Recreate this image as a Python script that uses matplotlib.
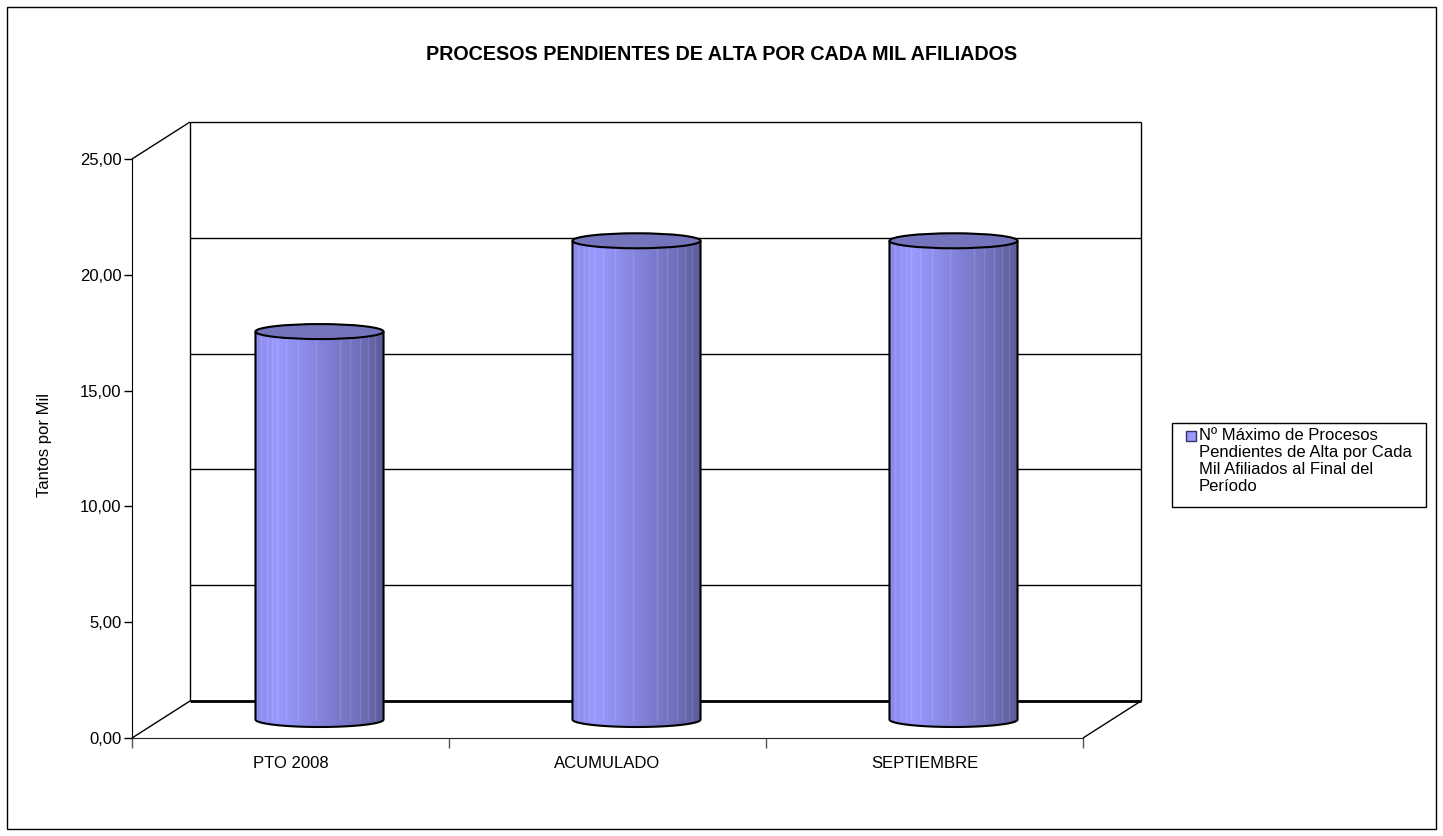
#!/usr/bin/env python3
"""
Excel-style 3D cylinder chart: procesos pendientes de alta por cada mil afiliados.
"""

import numpy as np
import matplotlib.pyplot as plt
from matplotlib.patches import Ellipse, PathPatch, Rectangle
from matplotlib.path import Path
from matplotlib.colors import LinearSegmentedColormap

# --- Data ---
categories = ['PTO 2008', 'ACUMULADO', 'SEPTIEMBRE']
values = [16.75, 20.67, 20.67]
y_ticks = [0, 5, 10, 15, 20, 25]
y_labels = ['0,00', '5,00', '10,00', '15,00', '20,00', '25,00']
title = 'PROCESOS PENDIENTES DE ALTA POR CADA MIL AFILIADOS'
y_title = 'Tantos por Mil'
series_label = ('Nº Máximo de Procesos\nPendientes de Alta por Cada\n'
                'Mil Afiliados al Final del\nPeríodo')

plt.rcParams['font.family'] = ['Liberation Sans', 'DejaVu Sans']

W, H, DPI = 1443, 836, 100
fig = plt.figure(figsize=(W / DPI, H / DPI), dpi=DPI)
fig.patch.set_facecolor('white')

# front plane of the 3D box, in pixels
left, right, top, bottom = 132, 1083, 159, 738
ax = fig.add_axes([left / W, 1 - bottom / H, (right - left) / W, (bottom - top) / H])
n = len(categories)
ax.set_xlim(0, n)
ax.set_ylim(0, y_ticks[-1])

# depth offset of the back wall, converted to data units
px_x = (right - left) / n
px_y = (bottom - top) / y_ticks[-1]
dx, dy = 58 / px_x, 37 / px_y

line = dict(clip_on=False, solid_capstyle='butt')

# --- back wall ---
for y in y_ticks:
    lw = 2.0 if y == 0 else 1.0
    ax.plot([dx, n + dx], [y + dy, y + dy], color='black', lw=lw, zorder=1, **line)
ax.plot([dx, dx], [dy, y_ticks[-1] + dy], color='black', lw=1.0, zorder=1, **line)
ax.plot([n + dx, n + dx], [dy, y_ticks[-1] + dy], color='black', lw=1.0, zorder=1, **line)

# --- side wall / floor diagonals ---
ax.plot([0, dx], [0, dy], color='black', lw=1.0, zorder=1, **line)
ax.plot([0, dx], [y_ticks[-1], y_ticks[-1] + dy], color='black', lw=1.0, zorder=1, **line)
ax.plot([n, n + dx], [0, dy], color='black', lw=1.0, zorder=1, **line)

# --- cylinders ---
cyl_cmap = LinearSegmentedColormap.from_list(
    'cyl', [(0.0, '#8a8aea'), (0.18, '#9999ff'), (0.5, '#8484dc'),
            (0.8, '#7070bc'), (1.0, '#5c5c98')])
grad = np.linspace(0, 1, 256)[np.newaxis, :]
bar_w = 0.404
ell_h = 15 / px_y
stripes = [0.04, 0.09, 0.13, 0.17, 0.24, 0.33, 0.47, 0.66, 0.74, 0.82, 0.88, 0.93]

for i, v in enumerate(values):
    cx = i + 0.5 + dx / 2
    base = dy / 2
    top_y = base + v
    t = np.linspace(np.pi, 2 * np.pi, 60)
    verts = [(cx - bar_w / 2, top_y)]
    verts += list(zip(cx + bar_w / 2 * np.cos(t), base + ell_h / 2 * np.sin(t)))
    verts += [(cx + bar_w / 2, top_y)]
    body = PathPatch(Path(verts), facecolor='none', edgecolor='black', lw=1.5,
                     zorder=4, clip_on=False)
    ax.add_patch(body)
    im = ax.imshow(grad, cmap=cyl_cmap, aspect='auto', zorder=3,
                   extent=(cx - bar_w / 2, cx + bar_w / 2, base - ell_h / 2, top_y))
    im.set_clip_path(body)
    for s in stripes:
        xs = cx - bar_w / 2 + s * bar_w
        ax.plot([xs, xs], [base, top_y], color='white', lw=1.0, alpha=0.12,
                zorder=3.5, clip_path=body, clip_on=True)
    ax.add_patch(Ellipse((cx, top_y), bar_w, ell_h, facecolor='#7474bc',
                         edgecolor='black', lw=1.5, zorder=5, clip_on=False))

ax.set_xlim(0, n)
ax.set_ylim(0, y_ticks[-1])

# --- axes / ticks ---
for s in ['top', 'right']:
    ax.spines[s].set_visible(False)
ax.spines['left'].set_color('black')
ax.spines['bottom'].set_color('#222222')
ax.spines['left'].set_zorder(2)
ax.spines['bottom'].set_zorder(2)

ax.set_yticks(y_ticks, y_labels)
ax.tick_params(axis='y', direction='out', length=6, width=1, pad=1.5, labelsize=12)
ax.set_xticks(range(n + 1), [''] * (n + 1))
ax.set_xticks([i + 0.5 for i in range(n)], categories, minor=True)
ax.tick_params(axis='x', which='major', direction='out', length=7, width=1,
               color='#555555')
ax.tick_params(axis='x', which='minor', length=0, pad=13, labelsize=12)

# --- texts ---
fig.text(722 / W, 1 - 55 / H, title, ha='center', va='center',
         fontsize=14.2, fontweight='bold')
fig.text(45 / W, 1 - 445 / H, y_title, ha='center', va='center',
         rotation=90, fontsize=12)

# --- legend (Excel style: marker beside first line) ---
fig.add_artist(Rectangle((1172 / W, 1 - 507 / H), (1426 - 1172) / W, (507 - 423) / H,
                         transform=fig.transFigure, facecolor='white',
                         edgecolor='black', lw=1))
fig.add_artist(Rectangle((1186 / W, 1 - 441 / H), 10 / W, 10 / H,
                         transform=fig.transFigure, facecolor='#9999ff',
                         edgecolor='#333366', lw=1))
fig.text(1199 / W, 1 - 428 / H, series_label, ha='left', va='top',
         fontsize=12, linespacing=1.18)

# outer chart border
fig.add_artist(Rectangle((7 / W, 7 / H), (1436 - 7) / W, (829 - 7) / H,
                         transform=fig.transFigure, facecolor='none',
                         edgecolor='black', lw=1))

fig.savefig('out.png', dpi=DPI)
